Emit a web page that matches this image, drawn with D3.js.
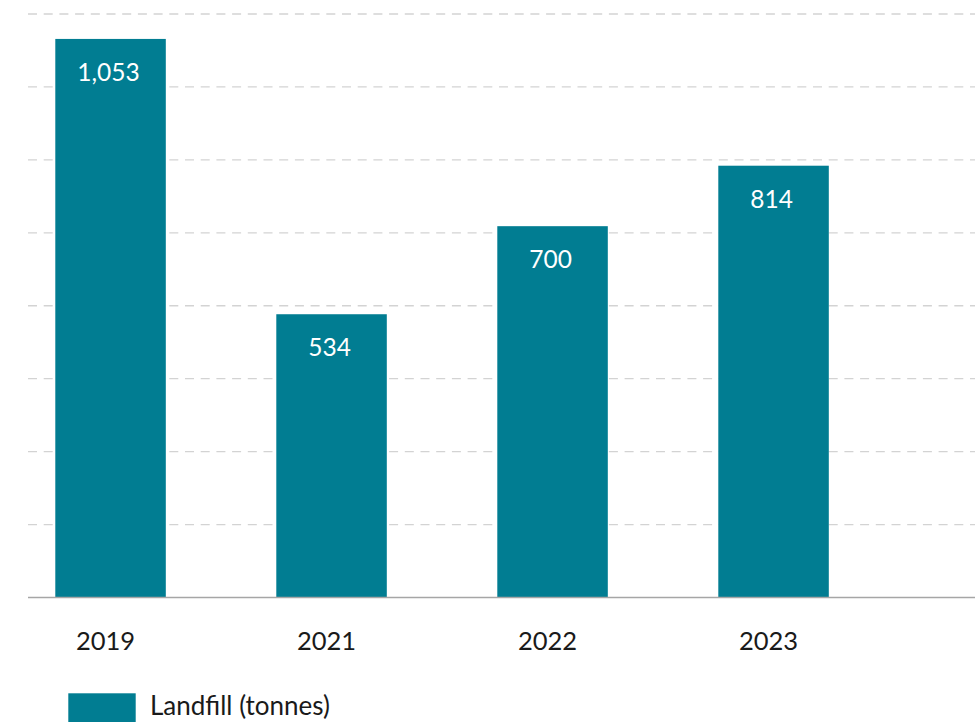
<!DOCTYPE html>
<html>
<head>
<meta charset="utf-8">
<script src="https://cdn.jsdelivr.net/npm/d3@7"></script>
<style>
  html, body { margin: 0; padding: 0; background: #ffffff; }
  svg { display: block; font-family: Lato, "Open Sans", sans-serif; }
</style>
</head>
<body>
<svg id="chart" width="975" height="722"></svg>
<script>
// Landfill tonnage by year
const years = ["2019", "2021", "2022", "2023"];
const landfill = [1053, 534, 700, 814];
const gridValues = [137.5, 275, 412.5, 550, 687.5, 825, 962.5, 1100];
const seriesName = "Landfill (tonnes)";

const barColor = "#017d92";
const svg = d3.select("#chart");

const x = d3.scaleBand()
  .domain(years)
  .range([55.3, 828.8])
  .paddingInner(0.5)
  .paddingOuter(0);

const y = d3.scaleLinear()
  .domain([0, 1100])
  .range([597.5, 14]);

// dashed horizontal gridlines
svg.append("g")
  .selectAll("line")
  .data(gridValues)
  .join("line")
  .attr("x1", 28)
  .attr("x2", 975)
  .attr("y1", d => y(d))
  .attr("y2", d => y(d))
  .attr("stroke", "#d3d3d3")
  .attr("stroke-width", 1.3)
  .attr("stroke-dasharray", "9,6.7");

const rows = years.map((yr, i) => ({ yr, v: landfill[i] }));

// bars
svg.append("g")
  .selectAll("rect")
  .data(rows)
  .join("rect")
  .attr("x", d => x(d.yr))
  .attr("y", d => y(d.v))
  .attr("width", x.bandwidth())
  .attr("height", d => y(0) - y(d.v))
  .attr("fill", barColor);

// value labels inside the bars
svg.append("g")
  .selectAll("text")
  .data(rows)
  .join("text")
  .attr("x", d => x(d.yr) + x.bandwidth() / 2 - 2)
  .attr("y", d => y(d.v) + 42)
  .attr("text-anchor", "middle")
  .attr("fill", "#ffffff")
  .attr("font-size", 24.5)
  .text(d => d3.format(",")(d.v));

// baseline
svg.append("line")
  .attr("x1", 28)
  .attr("x2", 975)
  .attr("y1", y(0))
  .attr("y2", y(0))
  .attr("stroke", "#a6a6a6")
  .attr("stroke-width", 1.3);

// category axis labels
const xAxis = d3.axisBottom(x).tickSize(0).tickPadding(0);
const gx = svg.append("g")
  .attr("transform", `translate(-5,${y(0)})`)
  .call(xAxis);
gx.select(".domain").remove();
gx.selectAll("text")
  .attr("dy", 0)
  .attr("y", 52)
  .attr("fill", "#1a1a1a")
  .attr("font-size", 25.5)
  .attr("font-family", "Lato, 'Open Sans', sans-serif");

// legend
const legend = svg.append("g");
legend.append("rect")
  .attr("x", 68.3)
  .attr("y", 693.3)
  .attr("width", 67.4)
  .attr("height", 40)
  .attr("fill", barColor);
legend.append("text")
  .attr("x", 150)
  .attr("y", 715)
  .attr("fill", "#1a1a1a")
  .attr("font-size", 26)
  .text(seriesName);
</script>
</body>
</html>
